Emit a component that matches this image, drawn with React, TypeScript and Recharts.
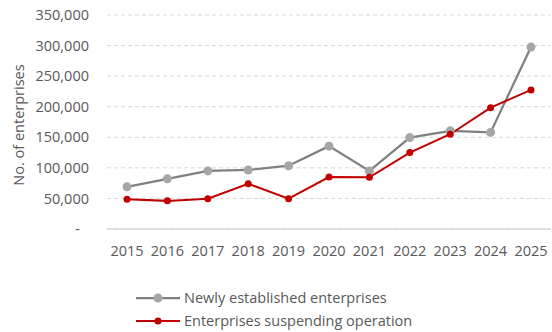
import { LineChart, Line, XAxis, YAxis, CartesianGrid } from "recharts";

const years = ["2015", "2016", "2017", "2018", "2019", "2020", "2021", "2022", "2023", "2024", "2025"];
const newlyEstablished = [69000, 82000, 95000, 96500, 103500, 135500, 95000, 149500, 160500, 158000, 297500];
const suspending = [48500, 46000, 49500, 74000, 49500, 85000, 84500, 125000, 155000, 198500, 227500];
const yTicks = [0, 50000, 100000, 150000, 200000, 250000, 300000, 350000];

const data = years.map((year, i) => ({
  year,
  newly: newlyEstablished[i],
  suspending: suspending[i]
}));

const FONT = "'Open Sans', 'Liberation Sans', sans-serif";
const TEXT = "#595959";

const YTick = (props: any) => {
  const { x, y, payload } = props;
  const v = payload.value;
  return (
    <text x={v === 0 ? x - 9 : x} y={y} dy="0.35em" textAnchor="end" fill={TEXT} fontSize={14.5} fontFamily={FONT}>
      {v === 0 ? "-" : v.toLocaleString("en-US")}
    </text>
  );
};

// rotated axis title, a touch below the plot centre like the original
const YTitle = (props: any) => {
  const { viewBox } = props;
  const cx = viewBox.x + 19;
  const cy = viewBox.y + viewBox.height / 2 + 3;
  return (
    <text
      x={cx}
      y={cy}
      transform={`rotate(-90, ${cx}, ${cy})`}
      textAnchor="middle"
      dy="0.35em"
      fill={TEXT}
      fontSize={14.5}
      fontFamily={FONT}
    >
      No. of enterprises
    </text>
  );
};

const legendItems = [
  { label: "Newly established enterprises", stroke: "#808080", dot: "#a6a6a6", r: 4.5, w: 2.25 },
  { label: "Enterprises suspending operation", stroke: "#c00000", dot: "#c00000", r: 3.5, w: 2 }
];

export default function App() {
  return (
    <div style={{ position: "absolute", left: 0, top: 0, width: 552, height: 332, background: "#fff" }}>
      <LineChart width={552} height={332} data={data} margin={{ top: 15, right: 1, bottom: 73, left: 0 }}>
        <CartesianGrid vertical={false} stroke="#d9d9d9" strokeDasharray="4 3" />
        <XAxis
          dataKey="year"
          height={30}
          padding={{ left: 20, right: 20 }}
          axisLine={{ stroke: "#d9d9d9", strokeWidth: 1.5 }}
          tickLine={false}
          tickSize={0}
          tickMargin={17}
          interval={0}
          tick={{ fill: TEXT, fontSize: 14.5, fontFamily: FONT }}
        />
        <YAxis
          width={107}
          domain={[0, 350000]}
          ticks={yTicks}
          interval={0}
          axisLine={false}
          tickLine={false}
          tickSize={0}
          tickMargin={18}
          tick={<YTick />}
          label={<YTitle />}
        />
        <Line
          dataKey="newly"
          stroke="#808080"
          strokeWidth={2.25}
          dot={{ r: 4.5, fill: "#a6a6a6", stroke: "#a6a6a6", strokeWidth: 0 }}
          activeDot={false}
          isAnimationActive={false}
        />
        <Line
          dataKey="suspending"
          stroke="#c00000"
          strokeWidth={2}
          dot={{ r: 3.5, fill: "#c00000", stroke: "#c00000", strokeWidth: 0 }}
          activeDot={false}
          isAnimationActive={false}
        />
      </LineChart>
      <div style={{ position: "absolute", left: 136, top: 286, fontFamily: FONT, fontSize: 14.5, color: TEXT }}>
        {legendItems.map((it) => (
          <div key={it.label} style={{ display: "flex", alignItems: "center", height: 23 }}>
            <svg width={48} height={12}>
              <line x1={0} y1={6} x2={44} y2={6} stroke={it.stroke} strokeWidth={it.w} />
              <circle cx={22} cy={6} r={it.r} fill={it.dot} />
            </svg>
            <span>{it.label}</span>
          </div>
        ))}
      </div>
    </div>
  );
}
